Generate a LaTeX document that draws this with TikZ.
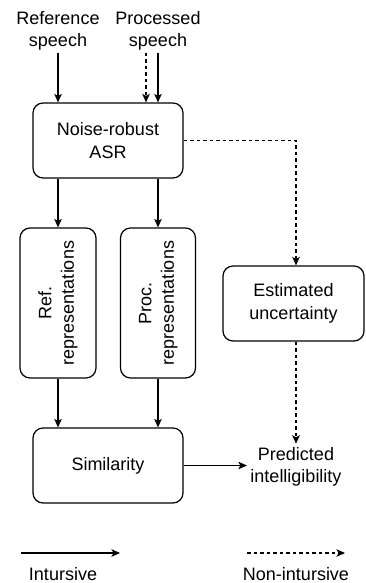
\documentclass[tikz,border=0pt]{standalone}
\usepackage{fontspec}
\setmainfont{Liberation Sans}
\usetikzlibrary{arrows.meta}
\begin{document}
\begin{tikzpicture}[x=1pt,y=-1pt,
  font=\fontsize{18}{22.5}\selectfont,
  line width=1.2pt,
  arr/.style={-{Stealth[length=8.5pt,width=7.5pt,inset=2pt]}},
  dsh/.style={dash pattern=on 3.5pt off 3pt},
  box/.style={draw,rounded corners=10pt,align=center,inner sep=0pt},
  lbl/.style={align=center,inner sep=2pt}]
\useasboundingbox (0,0) rectangle (365,583);
% inputs
\node[lbl,anchor=south] (refin) at (58,53) {Reference\\speech};
\node[lbl,anchor=south] (procin) at (158,53) {Processed\\speech};
% boxes
\node[box,minimum width=150pt,minimum height=75pt] (asr) at (108,140.5) {Noise-robust\\ASR};
\node[box,minimum width=76pt,minimum height=150pt] (refrep) at (58,303) {\rotatebox{90}{\begin{tabular}{@{}c@{}}Ref.\\representations\end{tabular}}};
\node[box,minimum width=75pt,minimum height=150pt] (procrep) at (158,303) {\rotatebox{90}{\begin{tabular}{@{}c@{}}Proc.\\representations\end{tabular}}};
\node[box,minimum width=141pt,minimum height=75pt] (est) at (293.5,303.5) {Estimated\\uncertainty};
\node[box,minimum width=150pt,minimum height=75pt] (sim) at (108,465.5) {Similarity};
\node[lbl,inner sep=3pt] (pred) at (296,467) {Predicted\\intelligibility};
% connectors
\draw[arr] (refin.south) -- (asr.north -| refin.south);
\draw[arr] (procin.south) -- (asr.north -| procin.south);
\draw[arr,dsh] ([xshift=-12pt]procin.south) -- ([xshift=-12pt]asr.north -| procin.south);
\draw[arr] (asr.south -| refrep.north) -- (refrep.north);
\draw[arr] (asr.south -| procrep.north) -- (procrep.north);
\draw[arr,dsh] (asr.east) -| (est.north -| pred.north);
\draw[arr] (refrep.south) -- (sim.north -| refrep.south);
\draw[arr] (procrep.south) -- (sim.north -| procrep.south);
\draw[arr,dsh] (est.south -| pred.north) -- (pred.north);
\draw[arr] (sim.east) -- (sim.east -| pred.west);
% legend
\coordinate (l1a) at (21,553);
\coordinate (l1b) at (120,553);
\coordinate (l2a) at (247,553);
\coordinate (l2b) at (345,553);
\draw[arr] (l1a) -- (l1b);
\draw[arr,dsh] (l2a) -- (l2b);
\node[lbl] (lt1) at (63,574) {Intursive};
\node[lbl] (lt2) at (296,574) {Non-intursive};
\end{tikzpicture}
\end{document}
